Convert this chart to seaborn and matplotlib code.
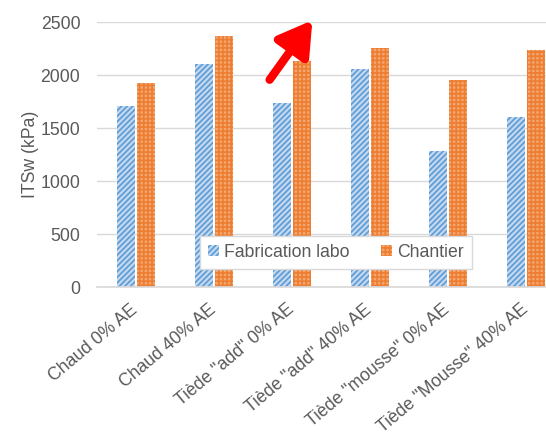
import matplotlib
matplotlib.use("Agg")
import matplotlib.pyplot as plt
import matplotlib.transforms as mtransforms
import seaborn as sns
import pandas as pd

categories = ['Chaud 0% AE', 'Chaud 40% AE', 'Tiède "add" 0% AE', 'Tiède "add" 40% AE',
              'Tiède "mousse" 0% AE', 'Tiède "Mousse" 40% AE']
labo = [1705, 2100, 1740, 2055, 1283, 1600]
chantier = [1922, 2368, 2130, 2255, 1953, 2236]
series = ['Fabrication labo', 'Chantier']
yticks = [0, 500, 1000, 1500, 2000, 2500]

sns.set_theme(style="white")
plt.rcParams['font.family'] = ['Liberation Sans', 'DejaVu Sans']
plt.rcParams['hatch.linewidth'] = 1.2

df = pd.DataFrame({
    'cat': categories * 2,
    'val': labo + chantier,
    'serie': [series[0]] * len(categories) + [series[1]] * len(categories),
})

fig = plt.figure(figsize=(5.46, 4.33), dpi=100)
# the reference plot area runs past the right edge of the picture (cropped)
ax = fig.add_axes([97 / 546, 0.337, 468 / 546, 0.612])

blue_face, blue_hatch = '#c3d8f0', '#5b9bd5'
orange_face, orange_hatch = '#f4a670', '#ed7d31'

sns.barplot(data=df, x='cat', y='val', hue='serie', order=categories, hue_order=series,
            palette=[blue_face, orange_face], width=0.52, gap=0.14, ax=ax, legend=True,
            saturation=1)

n = len(categories)
for i, p in enumerate(ax.patches[:2 * n]):
    if i < n:
        p.set_hatch('//////')
        p.set_edgecolor(blue_hatch)
    else:
        p.set_hatch('++++')
        p.set_edgecolor(orange_hatch)
    p.set_linewidth(0)

fs = 12.7
ax.set_ylim(0, 2500)
ax.set_xlim(-0.5, n - 0.5)
ax.set_yticks(yticks)
ax.yaxis.grid(True, color='#d9d9d9', linewidth=1)
ax.set_axisbelow(True)
for s in ['top', 'right', 'left']:
    ax.spines[s].set_visible(False)
ax.spines['bottom'].set_color('#d9d9d9')
ax.tick_params(axis='both', length=0, colors='#595959', labelsize=fs)
ax.tick_params(axis='y', pad=12)
ax.set_xticks(range(n))
ax.set_xticklabels(categories, rotation=40, ha='right', va='top', rotation_mode='anchor')
ax.tick_params(axis='x', pad=10)
shift = mtransforms.ScaledTranslation(-6 / 100, 0, fig.dpi_scale_trans)
for lab in ax.get_xticklabels():
    lab.set_transform(lab.get_transform() + shift)
ax.set_xlabel('')
ax.set_ylabel('ITSw (kPa)', color='#595959', fontsize=fs)
ax.yaxis.set_label_coords(-0.124, 0.5)

handles, labels = ax.get_legend_handles_labels()
handles[0].set_hatch('//////'); handles[0].set_edgecolor(blue_hatch); handles[0].set_linewidth(0)
handles[1].set_hatch('++++'); handles[1].set_edgecolor(orange_hatch); handles[1].set_linewidth(0)
leg = ax.legend(handles, labels, loc='center', bbox_to_anchor=(0.511, 0.132), ncol=2,
                frameon=True, fancybox=False, framealpha=1, edgecolor='#d9d9d9',
                fontsize=fs, handlelength=0.6, handleheight=0.6, handletextpad=0.3,
                columnspacing=1.8, borderpad=0.45, borderaxespad=0)
for t in leg.get_texts():
    t.set_color('#595959')

# red arrow annotation
fig.patches.append(matplotlib.patches.FancyArrowPatch(
    (268 / 546, 1 - 82 / 433), (314 / 546, 1 - 18 / 433), transform=fig.transFigure,
    arrowstyle='-|>,head_length=1.0,head_width=0.6', mutation_scale=20,
    color='#ff0000', linewidth=6, capstyle='round'))

fig.savefig('out.png', dpi=100)
